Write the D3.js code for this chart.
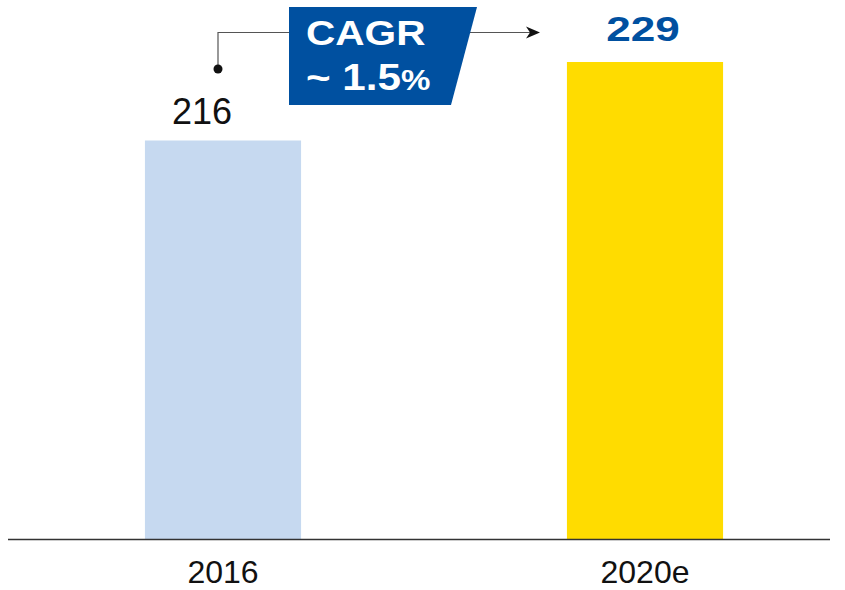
<!DOCTYPE html>
<html>
<head>
<meta charset="utf-8">
<script src="https://cdn.jsdelivr.net/npm/d3@7"></script>
<style>
  html, body { margin: 0; padding: 0; background: #fff; }
  svg { display: block; font-family: "Liberation Sans", Arial, sans-serif; }
</style>
</head>
<body>
<svg id="chart" width="845" height="590"></svg>
<script>
const categories = ["2016", "2020e"];
const values = [216, 229];
const barColors = ["#C6D9F0", "#FFDC00"];
const cagrLines = ["CAGR", "~ 1.5"];

const svg = d3.select("#chart");

const x = d3.scaleBand()
  .domain(categories)
  .range([12, 856])
  .paddingInner(0.63)
  .paddingOuter(0.315);

const y = d3.scaleLinear()
  .domain([150, 229])
  .range([539, 62]);

// bars
svg.selectAll("rect.bar")
  .data(values)
  .join("rect")
  .attr("class", "bar")
  .attr("x", (d, i) => x(categories[i]))
  .attr("y", d => y(d))
  .attr("width", x.bandwidth())
  .attr("height", d => y(150) - y(d))
  .attr("fill", (d, i) => barColors[i]);

// baseline
svg.append("line")
  .attr("x1", 8).attr("x2", 830)
  .attr("y1", y(150) + 0.5).attr("y2", y(150) + 0.5)
  .attr("stroke", "#333").attr("stroke-width", 1.3);

// x axis labels
svg.selectAll("text.cat")
  .data(categories)
  .join("text")
  .attr("class", "cat")
  .attr("x", d => x(d) + x.bandwidth() / 2)
  .attr("y", 583)
  .attr("text-anchor", "middle")
  .attr("font-size", 32)
  .attr("fill", "#111")
  .text(d => d);

// value labels
svg.append("text")
  .attr("x", x(categories[0]) + x.bandwidth() / 2 - 21)
  .attr("y", y(values[0]) - 16)
  .attr("text-anchor", "middle")
  .attr("font-size", 36)
  .attr("fill", "#111")
  .text(values[0]);

svg.append("g")
  .attr("transform", `translate(${x(categories[1]) + x.bandwidth() / 2 - 2},${y(values[1]) - 21}) scale(1.26,1)`)
  .append("text")
  .attr("text-anchor", "middle")
  .attr("font-size", 35)
  .attr("font-weight", "bold")
  .attr("fill", "#0050A0")
  .text(values[1]);

// connector
svg.append("path")
  .attr("d", "M218,69 V32.5 H290 M470,32.5 H530")
  .attr("fill", "none")
  .attr("stroke", "#555")
  .attr("stroke-width", 1.2);
svg.append("circle").attr("cx", 218).attr("cy", 69).attr("r", 4.5).attr("fill", "#111");
svg.append("path")
  .attr("d", "M540,32.5 L526,26.5 L530,32.5 L526,38.5 Z")
  .attr("fill", "#111");

// CAGR box
svg.append("path")
  .attr("d", "M289,7 L477,7 L451,105 L289,105 Z")
  .attr("fill", "#0050A0");

svg.append("g")
  .attr("transform", "translate(306,45) scale(1.16,1)")
  .append("text")
  .attr("font-size", 35).attr("font-weight", "bold")
  .attr("fill", "#fff")
  .text(cagrLines[0]);

const t2 = svg.append("g")
  .attr("transform", "translate(306,90) scale(1.14,1)")
  .append("text")
  .attr("font-size", 37).attr("font-weight", "bold")
  .attr("fill", "#fff");
t2.append("tspan").text(cagrLines[1]);
t2.append("tspan").attr("font-size", 29).text("%");
</script>
</body>
</html>
